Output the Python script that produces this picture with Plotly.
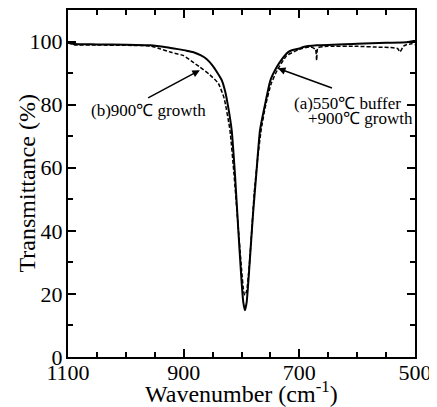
import plotly.graph_objects as go

# Series (a): 550℃ buffer + 900℃ growth (solid)
wn_a = [1100, 1090, 1050, 1000, 958, 930, 910, 895, 883, 870, 860, 850, 842, 834, 828, 823, 817, 811,
        805.5, 800, 797, 794, 791, 788, 784, 780, 774, 768, 759, 750, 739, 730, 722, 716,
        700, 693, 670, 600, 550, 514, 503, 500]
t_a = [99.6, 99.2, 99.1, 99.0, 98.8, 98.2, 97.6, 97.1, 96.6, 95.6, 94.4, 92.4, 90.2, 87.7, 84.0, 79.2, 71.9, 57.0,
       40.2, 24.3, 17.5, 14.8, 17.5, 24.3, 35.0, 45.5, 59.0, 71.9, 80.3, 87.7, 91.9, 94.4, 96.2, 97.0,
       97.8, 98.3, 98.8, 99.3, 99.6, 99.8, 100.2, 100.2]

# Series (b): 900℃ growth (dashed)
wn_b = [1100, 1090, 1050, 1000, 958, 941, 920, 901, 884, 872, 855, 840, 830, 820, 813,
        806, 800, 796, 794, 791, 787, 783, 778, 772, 766, 758, 749, 738, 722, 700,
        680, 672, 670, 668, 650, 600, 560, 543, 530, 526, 520, 515, 505, 500]
t_b = [99.6, 99.0, 98.9, 98.8, 98.6, 97.7, 96.5, 95.6, 93.5, 91.9, 89.5, 86.7, 82.0, 71.9, 58.0,
       42.0, 28.0, 20.5, 19.6, 21.0, 28.0, 38.0, 52.0, 63.0, 72.0, 80.0, 86.5, 91.0, 95.5, 97.5,
       98.3, 97.5, 94.0, 98.0, 98.5, 98.5, 98.2, 98.1, 97.8, 96.7, 98.5, 99.0, 99.3, 99.0]

x_ticks = [1100, 900, 700, 500]
y_ticks = [0, 20, 40, 60, 80, 100]

FONT = "Liberation Serif, Times New Roman, serif"

fig = go.Figure()
fig.add_trace(go.Scatter(x=wn_a, y=t_a, mode="lines",
                         line=dict(color="black", width=2, shape="spline", smoothing=0.5),
                         showlegend=False))
fig.add_trace(go.Scatter(x=wn_b, y=t_b, mode="lines",
                         line=dict(color="black", width=1.5, dash="4px,2px", shape="spline", smoothing=0.5),
                         showlegend=False))

axis_common = dict(showline=True, linecolor="black", linewidth=2, mirror="allticks",
                   ticks="inside", ticklen=8, tickwidth=1.5, tickcolor="black",
                   showgrid=False, zeroline=False, automargin=False,
                   tickfont=dict(family=FONT, size=22, color="black"))

fig.update_xaxes(range=[1100, 500], tickvals=x_ticks, ticktext=[str(v) for v in x_ticks],
                 minor=dict(dtick=50, ticks="inside", ticklen=5, tickwidth=1.5, tickcolor="black", showgrid=False),
                 ticklabelstandoff=-5,
                 **axis_common)
fig.update_yaxes(range=[0, 110], tickvals=y_ticks, ticktext=[str(v) for v in y_ticks],
                 minor=dict(dtick=10, ticks="inside", ticklen=5, tickwidth=1.5, tickcolor="black", showgrid=False),
                 ticklabelstandoff=-1,
                 **axis_common)

# y-axis title
fig.add_annotation(x=0, y=0.5, xref="paper", yref="paper", xshift=-42, xanchor="center", yanchor="middle",
                   text="Transmittance (%)", textangle=-90, showarrow=False, borderpad=0,
                   font=dict(family=FONT, size=24, color="black"))
# x-axis title placed just under the tick labels
fig.add_annotation(x=0.5, y=0, xref="paper", yref="paper", yshift=-19, yanchor="top",
                   text="Wavenumber (cm<sup>-1</sup>)", showarrow=False, borderpad=0,
                   font=dict(family=FONT, size=24, color="black"))

ann_font = dict(family=FONT, size=17, color="black")
fig.add_annotation(x=872, y=90.9, ax=964, ay=81.9, xref="x", yref="y", axref="x", ayref="y",
                   text="", showarrow=True, arrowhead=2, arrowsize=1, arrowwidth=1.5, arrowcolor="black")
fig.add_annotation(x=737, y=91.5, ax=641, ay=85.1, xref="x", yref="y", axref="x", ayref="y",
                   text="", showarrow=True, arrowhead=2, arrowsize=1, arrowwidth=1.5, arrowcolor="black")
fig.add_annotation(x=1062, y=78.2, xref="x", yref="y", text="(b)900℃ growth",
                   showarrow=False, xanchor="left", yanchor="middle", font=ann_font, borderpad=0)
fig.add_annotation(x=711, y=80.3, xref="x", yref="y", text="(a)550℃ buffer",
                   showarrow=False, xanchor="left", yanchor="middle", font=ann_font, borderpad=0)
fig.add_annotation(x=501, y=75.6, xref="x", yref="y", text="+900℃ growth",
                   showarrow=False, xanchor="right", yanchor="middle", font=ann_font, borderpad=0)

# page body has an 8px default margin, so the figure is sized/offset to land on the reference layout
fig.update_layout(width=429, height=399, margin=dict(l=60, r=22, t=2, b=50, autoexpand=False),
                  paper_bgcolor="white", plot_bgcolor="white",
                  font=dict(family=FONT, color="black"))

fig.write_html("out.html")
